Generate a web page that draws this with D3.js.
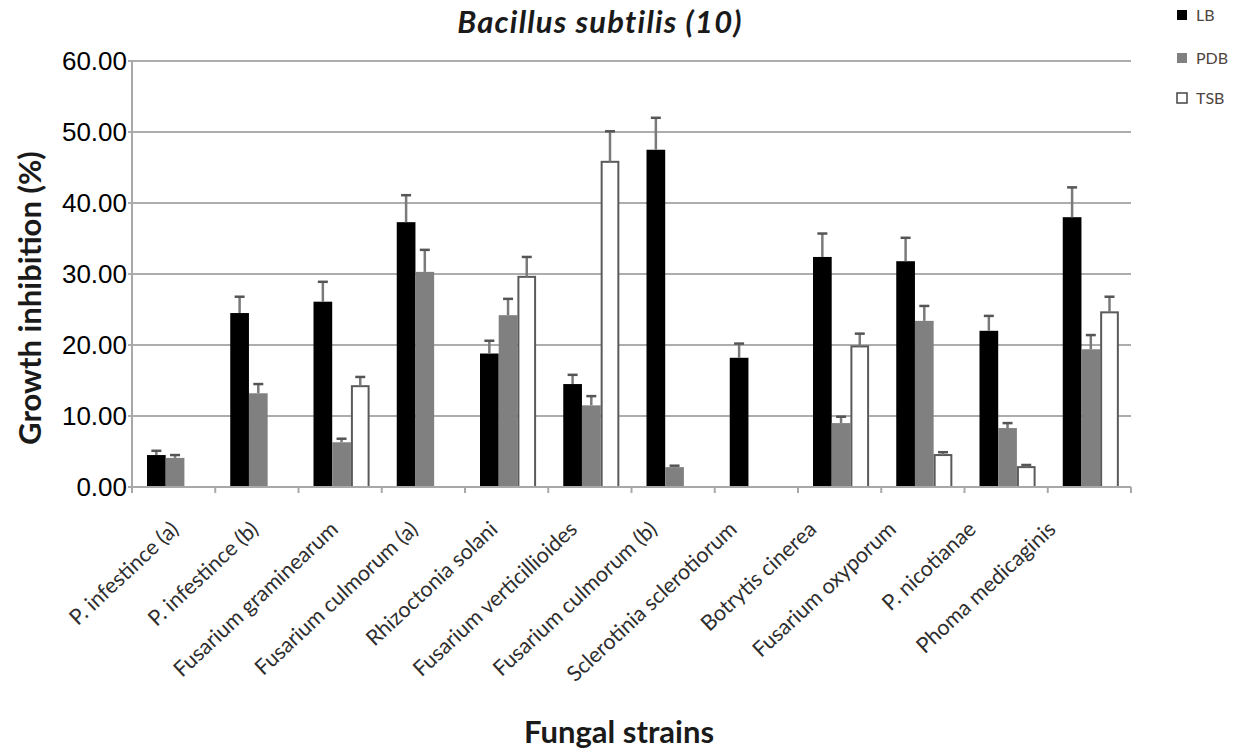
<!DOCTYPE html>
<html>
<head>
<meta charset="utf-8">
<script src="https://cdn.jsdelivr.net/npm/d3@7"></script>
<style>
  html, body { margin: 0; padding: 0; background: #fff; }
  svg { display: block; }
</style>
</head>
<body>
<svg id="chart" width="1248" height="752"></svg>
<script>
const categories = ["P. infestince (a)", "P. infestince (b)", "Fusarium graminearum", "Fusarium culmorum (a)",
  "Rhizoctonia solani", "Fusarium verticillioides", "Fusarium culmorum (b)", "Sclerotinia sclerotiorum",
  "Botrytis cinerea", "Fusarium oxyporum", "P. nicotianae", "Phoma medicaginis"];
const seriesNames = ["LB", "PDB", "TSB"];
const LB      = [4.5, 24.5, 26.1, 37.3, 18.8, 14.5, 47.5, 18.2, 32.4, 31.8, 22.0, 38.0];
const LB_err  = [0.6, 2.3, 2.8, 3.8, 1.8, 1.3, 4.5, 2.0, 3.3, 3.3, 2.1, 4.2];
const PDB     = [4.1, 13.2, 6.3, 30.3, 24.2, 11.5, 2.8, null, 9.0, 23.4, 8.3, 19.4];
const PDB_err = [0.4, 1.3, 0.5, 3.1, 2.3, 1.3, 0.2, null, 0.9, 2.1, 0.7, 2.0];
const TSB     = [null, null, 14.2, null, 29.6, 45.8, null, null, 19.8, 4.5, 2.8, 24.6];
const TSB_err = [null, null, 1.3, null, 2.8, 4.3, null, null, 1.8, 0.4, 0.3, 2.2];
const yTicks = [0, 10, 20, 30, 40, 50, 60];
const title = "Bacillus subtilis (10)";
const xTitle = "Fungal strains";
const yTitle = "Growth inhibition (%)";

(function () {
const values = { LB: LB, PDB: PDB, TSB: TSB };
const errors = { LB: LB_err, PDB: PDB_err, TSB: TSB_err };
const fills = { LB: "#000000", PDB: "#808080", TSB: "#ffffff" };
const strokes = { LB: "#000000", PDB: "#808080", TSB: "#5a5a5a" };

const svg = d3.select("#chart");
const pLeft = 132, pRight = 1131, pTop = 61, pBottom = 487;

const x0 = d3.scaleBand().domain(categories).range([pLeft, pRight]).padding(0);
const groupStart = 15, barW = 18.7;
const x1 = d3.scaleBand().domain(seriesNames).range([groupStart, groupStart + barW * 3]).padding(0);
const y = d3.scaleLinear().domain([0, 60]).range([pBottom, pTop]);
// category labels in the reference sit on a slightly tighter spacing than the bars
const xLabel = d3.scalePoint().domain(categories).range([180, 1057]);

// gridlines
svg.append("g").selectAll("line").data(yTicks.filter(d => d > 0)).join("line")
  .attr("x1", pLeft - 4).attr("x2", pRight)
  .attr("y1", d => y(d)).attr("y2", d => y(d))
  .attr("stroke", "#adadad").attr("stroke-width", 2);

// y axis line
svg.append("line").attr("x1", pLeft).attr("x2", pLeft).attr("y1", pTop).attr("y2", pBottom + 5)
  .attr("stroke", "#a8a8a8").attr("stroke-width", 2);

// y tick labels
svg.append("g").selectAll("text").data(yTicks).join("text")
  .attr("x", 127).attr("y", d => y(d)).attr("dy", "0.36em")
  .attr("text-anchor", "end")
  .attr("font-family", "'Liberation Sans', Arial, sans-serif")
  .attr("font-size", 26).attr("fill", "#000")
  .text(d => d3.format(".2f")(d));

// bars
const flat = [];
categories.forEach((c, i) => seriesNames.forEach(s => {
  if (values[s][i] != null) flat.push({ c, s, v: values[s][i], e: errors[s][i] });
}));

const gBars = svg.append("g");
gBars.selectAll("rect").data(flat).join("rect")
  .attr("x", d => x0(d.c) + x1(d.s) + (d.s === "TSB" ? 1 : 0))
  .attr("y", d => y(d.v))
  .attr("width", d => barW - (d.s === "TSB" ? 2 : 0))
  .attr("height", d => y(0) - y(d.v))
  .attr("fill", d => fills[d.s])
  .attr("stroke", d => d.s === "TSB" ? strokes[d.s] : "none")
  .attr("stroke-width", 2);

// error bars
const gErr = svg.append("g");
gErr.selectAll("line.stem").data(flat).join("line").attr("class", "stem")
  .attr("x1", d => x0(d.c) + x1(d.s) + barW / 2).attr("x2", d => x0(d.c) + x1(d.s) + barW / 2)
  .attr("y1", d => y(d.v)).attr("y2", d => y(d.v + d.e))
  .attr("stroke", "#7a7a7a").attr("stroke-width", 2.5);
gErr.selectAll("line.cap").data(flat).join("line").attr("class", "cap")
  .attr("x1", d => x0(d.c) + x1(d.s) + barW / 2 - 5).attr("x2", d => x0(d.c) + x1(d.s) + barW / 2 + 5)
  .attr("y1", d => y(d.v + d.e)).attr("y2", d => y(d.v + d.e))
  .attr("stroke", "#555").attr("stroke-width", 2.5);

// x axis
svg.append("line").attr("x1", pLeft - 4).attr("x2", pRight).attr("y1", pBottom).attr("y2", pBottom)
  .attr("stroke", "#a8a8a8").attr("stroke-width", 2);
const boundaries = categories.map(c => x0(c)).concat([pRight]);
svg.append("g").selectAll("line").data(boundaries).join("line")
  .attr("x1", d => d).attr("x2", d => d).attr("y1", pBottom).attr("y2", pBottom + 6)
  .attr("stroke", "#a8a8a8").attr("stroke-width", 2);

// x labels
svg.append("g").selectAll("text").data(categories).join("text")
  .attr("transform", c => `translate(${xLabel(c)},${pBottom + 44}) rotate(-43)`)
  .attr("text-anchor", "end")
  .attr("font-family", "Lato, 'Open Sans', sans-serif")
  .attr("font-size", 21.5).attr("fill", "#2e2e2e")
  .text(c => c);

// titles
svg.append("text").attr("x", 600).attr("y", 33).attr("text-anchor", "middle")
  .attr("font-family", "Lato, 'Open Sans', sans-serif").attr("font-weight", "bold").attr("font-style", "italic")
  .attr("font-size", 31).attr("letter-spacing", 1.2).attr("fill", "#1a1a1a").text(title);
svg.append("text").attr("x", 619).attr("y", 743).attr("text-anchor", "middle")
  .attr("font-family", "Lato, 'Open Sans', sans-serif").attr("font-weight", "bold")
  .attr("font-size", 31).attr("fill", "#1a1a1a").text(xTitle);
svg.append("text").attr("transform", "translate(41,298) rotate(-90)").attr("text-anchor", "middle")
  .attr("font-family", "Lato, 'Open Sans', sans-serif").attr("font-weight", "bold")
  .attr("font-size", 31).attr("fill", "#1a1a1a").text(yTitle);

// legend
const legend = svg.append("g").selectAll("g").data(seriesNames).join("g")
  .attr("transform", (s, i) => `translate(1177,${[15, 58, 98][i]})`);
legend.append("rect").attr("x", 0).attr("y", -5).attr("width", 10).attr("height", 10)
  .attr("fill", s => fills[s]).attr("stroke", s => s === "TSB" ? "#444" : fills[s]).attr("stroke-width", s => s === "TSB" ? 1.5 : 0);
legend.append("text").attr("x", 19).attr("y", 0).attr("dy", "0.36em")
  .attr("font-family", "Lato, 'Open Sans', sans-serif").attr("font-size", 16).attr("fill", "#4d4540")
  .text(s => s);
})();
</script>
</body>
</html>
